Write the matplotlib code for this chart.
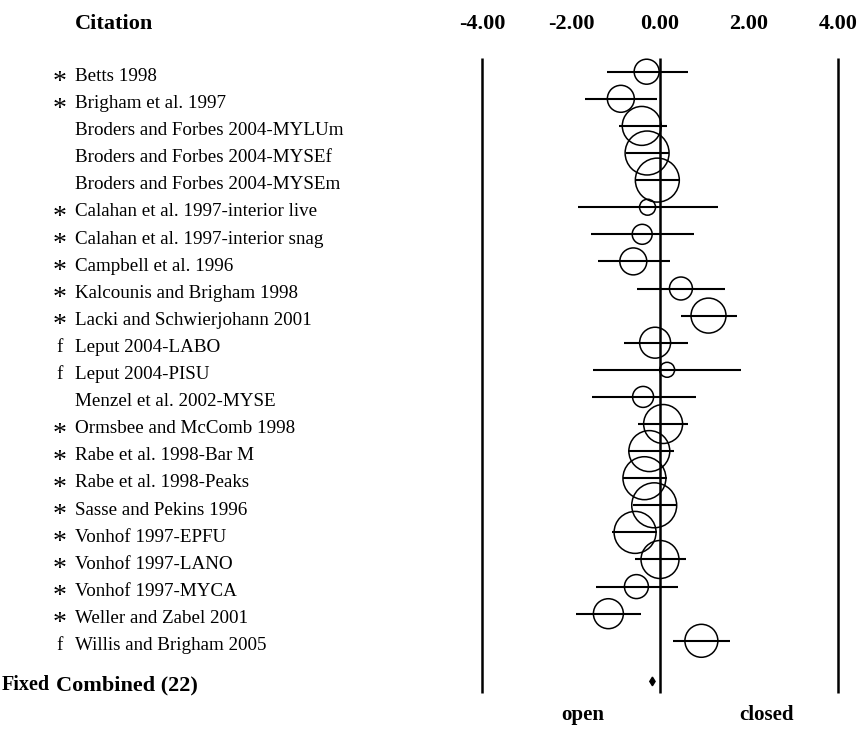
import numpy as np
import matplotlib.pyplot as plt
from matplotlib.transforms import blended_transform_factory

# study labels, marker symbol in front of each label
studies = [
    "Betts 1998",
    "Brigham et al. 1997",
    "Broders and Forbes 2004-MYLUm",
    "Broders and Forbes 2004-MYSEf",
    "Broders and Forbes 2004-MYSEm",
    "Calahan et al. 1997-interior live",
    "Calahan et al. 1997-interior snag",
    "Campbell et al. 1996",
    "Kalcounis and Brigham 1998",
    "Lacki and Schwierjohann 2001",
    "Leput 2004-LABO",
    "Leput 2004-PISU",
    "Menzel et al. 2002-MYSE",
    "Ormsbee and McComb 1998",
    "Rabe et al. 1998-Bar M",
    "Rabe et al. 1998-Peaks",
    "Sasse and Pekins 1996",
    "Vonhof 1997-EPFU",
    "Vonhof 1997-LANO",
    "Vonhof 1997-MYCA",
    "Weller and Zabel 2001",
    "Willis and Brigham 2005",
]
marks = ["*", "*", "", "", "", "*", "*", "*", "*", "*", "f", "f", "",
         "*", "*", "*", "*", "*", "*", "*", "*", "f"]

effect = [-0.30, -0.88, -0.41, -0.29, -0.06, -0.28, -0.40, -0.60, 0.47, 1.09,
          -0.11, 0.16, -0.38, 0.07, -0.24, -0.35, -0.13, -0.56, 0.00, -0.53,
          -1.16, 0.93]
lower = [-1.20, -1.68, -0.93, -0.77, -0.56, -1.85, -1.55, -1.40, -0.52, 0.47,
         -0.82, -1.50, -1.53, -0.49, -0.73, -0.84, -0.61, -1.07, -0.57, -1.44,
         -1.89, 0.30]
upper = [0.62, -0.07, 0.15, 0.20, 0.42, 1.31, 0.76, 0.22, 1.46, 1.72,
         0.62, 1.81, 0.81, 0.64, 0.31, 0.15, 0.36, -0.07, 0.58, 0.40,
         -0.43, 1.57]
# relative weight (%)
weight = [2.57, 2.99, 6.24, 7.95, 7.95, 1.05, 1.64, 2.99, 2.17, 5.03,
          3.94, 0.92, 1.81, 6.24, 6.90, 7.59, 8.31, 7.24, 5.93, 2.36,
          3.69, 4.47]

combined_label = "Combined (22)"
combined_effect = -0.17
combined_lower = -0.23
combined_upper = -0.11

ticks = [-4, -2, 0, 2, 4]
tick_labels = ["-4.00", "-2.00", "0.00", "2.00", "4.00"]

plt.rcParams['font.family'] = ['Liberation Serif', 'DejaVu Serif']

fig = plt.figure(figsize=(8.59, 7.37), dpi=100)
ax = fig.add_axes([482 / 859, 0, 356 / 859, 1])
ax.set_xlim(-4, 4)
ax.set_ylim(24.55, -2.646)
ax.axis('off')

rows = np.arange(len(studies))
n = len(studies)
comb_row = n + 0.5

# frame lines at -4, 0, 4
ax.vlines(ticks[::2], -0.5, 22.93, color='black', lw=1.8, clip_on=False)

# confidence intervals and weighted circles
ax.hlines(rows, lower, upper, color='black', lw=1.5)
ax.scatter(effect, rows, s=126 * np.array(weight), facecolors='none',
           edgecolors='black', linewidths=1.1, zorder=3)

# combined diamond
hh = 0.16
ax.fill([combined_lower, combined_effect, combined_upper, combined_effect],
        [comb_row, comb_row - hh, comb_row, comb_row + hh],
        color='black', zorder=4)

# tick labels along the top
for t, lab in zip(ticks, tick_labels):
    ax.text(t, -1.57, lab, ha='center', va='baseline', fontsize=16,
            fontweight='bold')

tr = blended_transform_factory(fig.transFigure, ax.transData)
x_txt = 75 / 859
x_mark = 60 / 859

ax.text(x_txt, -1.57, "Citation", transform=tr, ha='left', va='baseline',
        fontsize=16, fontweight='bold')

for i, (lab, m) in enumerate(zip(studies, marks)):
    ax.text(x_txt, i + 0.34, lab, transform=tr, ha='left', va='baseline',
            fontsize=13.7)
    if m == "*":
        ax.text(x_mark, i + 0.62, m, transform=tr, ha='center',
                va='baseline', fontsize=20)
    elif m:
        ax.text(x_mark, i + 0.34, m, transform=tr, ha='center',
                va='baseline', fontsize=13.7)

ax.text(2 / 859, n + 0.82, "Fixed", transform=tr, ha='left', va='baseline',
        fontsize=14.5, fontweight='bold')
ax.text(56 / 859, n + 0.82, combined_label, transform=tr, ha='left',
        va='baseline', fontsize=16, fontweight='bold')

ax.text(-1.73, n + 1.92, "open", ha='center', va='baseline', fontsize=15,
        fontweight='bold')
ax.text(2.4, n + 1.92, "closed", ha='center', va='baseline', fontsize=15,
        fontweight='bold')

fig.savefig("out.png", dpi=100, facecolor='white')
